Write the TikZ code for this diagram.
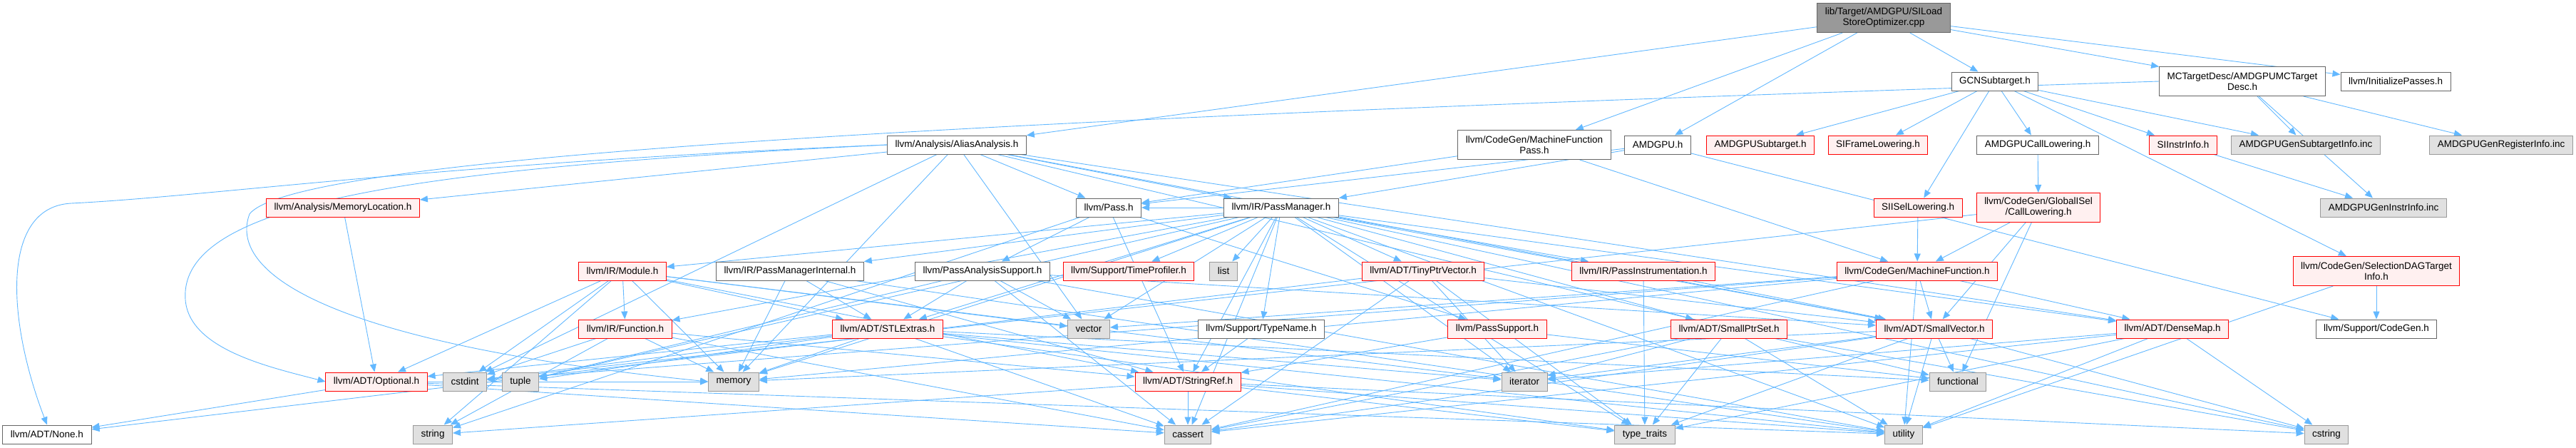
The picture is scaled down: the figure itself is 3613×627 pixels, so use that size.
\documentclass[tikz,border=0pt]{standalone}
\usepackage{fontspec}
\setmainfont{Liberation Sans}
\usepackage{tikz}
\usetikzlibrary{arrows.meta,backgrounds}
\definecolor{edgeblue}{RGB}{99,184,255}
\definecolor{boxgrey}{RGB}{102,102,102}
\definecolor{sysfill}{RGB}{224,224,224}
\definecolor{sysline}{RGB}{153,153,153}
\definecolor{truncfill}{RGB}{255,240,240}
\definecolor{srcfill}{RGB}{153,153,153}

\begin{document}
\begin{tikzpicture}[x=1pt, y=-1pt,
  hdr/.style={draw=boxgrey, fill=white, line width=1pt, inner xsep=11pt,
    inner ysep=2pt, minimum height=26pt, align=center,
    font=\fontsize{13.5}{15}\selectfont},
  trunc/.style={hdr, draw=red, fill=truncfill},
  sys/.style={hdr, draw=sysline, fill=sysfill},
  srcfile/.style={hdr, fill=srcfill},
  tall/.style={minimum height=41pt},
  dep/.style={draw=edgeblue, line width=0.9pt, -{Triangle[length=11pt,width=9pt]}}]
  \useasboundingbox (0,0) rectangle (3613,627);

  % Source file
  \node[srcfile, tall] (root) at (2642,25) {lib/Target/AMDGPU/SILoad\\StoreOptimizer.cpp};

  % Row 2
  \node[hdr] (gcn) at (2798,114) {GCNSubtarget.h};
  \node[hdr, tall] (mctd) at (3145,114) {MCTargetDesc/AMDGPUMCTarget\\Desc.h};
  \node[hdr] (initp) at (3360,114) {llvm/InitializePasses.h};

  % Row 3
  \node[hdr] (alias) at (1342,203) {llvm/Analysis/AliasAnalysis.h};
  \node[hdr, tall] (mfpass) at (2152,203) {llvm/CodeGen/MachineFunction\\Pass.h};
  \node[hdr] (amdgpu) at (2325,203) {AMDGPU.h};
  \node[trunc] (subtgt) at (2469,203) {AMDGPUSubtarget.h};
  \node[trunc] (sifl) at (2634,203) {SIFrameLowering.h};
  \node[hdr] (callow) at (2858,203) {AMDGPUCallLowering.h};
  \node[trunc] (siinfo) at (3062,203) {SIInstrInfo.h};
  \node[sys] (gensub) at (3234,203) {AMDGPUGenSubtargetInfo.inc};
  \node[sys] (genreg) at (3508,203) {AMDGPUGenRegisterInfo.inc};

  % Row 4
  \node[trunc] (memloc) at (481,291) {llvm/Analysis/MemoryLocation.h};
  \node[hdr] (pass) at (1555,291) {llvm/Pass.h};
  \node[hdr] (pm) at (1797,291) {llvm/IR/PassManager.h};
  \node[trunc] (siisel) at (2690,291) {SIISelLowering.h};
  \node[trunc, tall] (gcall) at (2859,291) {llvm/CodeGen/GlobalISel\\/CallLowering.h};
  \node[sys] (geninst) at (3343,291) {AMDGPUGenInstrInfo.inc};

  % Row 5
  \node[trunc] (module) at (873,380) {llvm/IR/Module.h};
  \node[hdr] (pmi) at (1108,380) {llvm/IR/PassManagerInternal.h};
  \node[hdr] (pas) at (1378,380) {llvm/PassAnalysisSupport.h};
  \node[trunc] (timeprof) at (1583,380) {llvm/Support/TimeProfiler.h};
  \node[sys] (list) at (1716,380) {list};
  \node[trunc] (tiny) at (1996,380) {llvm/ADT/TinyPtrVector.h};
  \node[trunc] (pinstr) at (2305,380) {llvm/IR/PassInstrumentation.h};
  \node[trunc] (mfunc) at (2689,380) {llvm/CodeGen/MachineFunction.h};
  \node[trunc, tall] (sdagti) at (3333,380) {llvm/CodeGen/SelectionDAGTarget\\Info.h};

  % Row 6
  \node[trunc] (func) at (877,461) {llvm/IR/Function.h};
  \node[trunc] (stlx) at (1245,461) {llvm/ADT/STLExtras.h};
  \node[sys] (vector) at (1527,461) {vector};
  \node[hdr] (typename) at (1769,461) {llvm/Support/TypeName.h};
  \node[trunc] (psupport) at (2100,461) {llvm/PassSupport.h};
  \node[trunc] (sptrset) at (2425,461) {llvm/ADT/SmallPtrSet.h};
  \node[trunc] (svec) at (2713,461) {llvm/ADT/SmallVector.h};
  \node[trunc] (dmap) at (3047,461) {llvm/ADT/DenseMap.h};
  \node[hdr] (cgen) at (3333,461) {llvm/Support/CodeGen.h};

  % Row 7
  \node[trunc] (optional) at (528,535) {llvm/ADT/Optional.h};
  \node[sys] (cstdint) at (652,535) {cstdint};
  \node[sys] (tuple) at (730,535) {tuple};
  \node[sys] (memory) at (1029,535) {memory};
  \node[trunc] (sref) at (1666,535) {llvm/ADT/StringRef.h};
  \node[sys] (iterator) at (2138,535) {iterator};
  \node[sys] (functional) at (2746,535) {functional};

  % Row 8
  \node[hdr] (none) at (66,609) {llvm/ADT/None.h};
  \node[sys] (string) at (607,609) {string};
  \node[sys] (cassert) at (1666,609) {cassert};
  \node[sys] (typetraits) at (2307,609) {type\_traits};
  \node[sys] (utility) at (2670,609) {utility};
  \node[sys] (cstring) at (3263,609) {cstring};

  \begin{scope}[on background layer]
    % Source file includes
    \foreach \dst in {alias,mfpass,amdgpu,gcn,mctd,initp}
      \draw[dep] (root) -- (\dst);

    % Target headers
    \foreach \dst in {subtgt,sifl,siisel,callow,siinfo,gensub,sdagti}
      \draw[dep] (gcn) -- (\dst);
    \foreach \dst in {gensub,genreg,geninst}
      \draw[dep] (mctd) -- (\dst);
    \draw[dep] (mctd.west) .. controls (1600,160) and (420,210) .. (350,300)
      .. controls (320,380) and (450,480) .. (memory.west);
    \draw[dep] (callow) -- (gcall);
    \draw[dep] (siisel) -- (mfunc);
    \draw[dep] (siinfo) -- (geninst);
    \foreach \dst in {mfunc,svec,functional,cstdint}
      \draw[dep] (gcall) -- (\dst);
    \foreach \dst in {cgen,utility}
      \draw[dep] (sdagti) -- (\dst);

    % Pass headers
    \foreach \dst in {pass,pm,memloc,dmap,svec,cstdint,functional,memory,vector}
      \draw[dep] (alias) -- (\dst);
    \draw[dep] (alias.west) .. controls (600,230) and (300,275) .. (100,285)
      .. controls (0,290) and (10,450) .. (none.north);
    \draw[dep] (alias.west) .. controls (600,235) and (250,280) .. (260,420)
      .. controls (265,490) and (380,515) .. (optional.west);
    \foreach \dst in {pass,mfunc}
      \draw[dep] (mfpass) -- (\dst);
    \foreach \dst in {pm,pass,cgen}
      \draw[dep] (amdgpu) -- (\dst);
    \foreach \dst in {svec,dmap,cassert,cstdint,memory,utility,vector}
      \draw[dep] (mfunc) -- (\dst);
    \foreach \dst in {pass,module,func,pmi,timeprof,list,tiny,pinstr,typename,
        stlx,sptrset,svec,sref,dmap,cassert,cstring,iterator,memory,tuple,
        typetraits,utility,vector}
      \draw[dep] (pm) -- (\dst);
    \foreach \dst in {pas,psupport,sref,string}
      \draw[dep] (pass) -- (\dst);
    \foreach \dst in {stlx,svec,cassert,tuple,utility,vector}
      \draw[dep] (pas) -- (\dst);
    \foreach \dst in {stlx,sref,memory,utility}
      \draw[dep] (pmi) -- (\dst);

    % IR and ADT headers
    \foreach \dst in {func,optional,stlx,sref,cstdint,iterator,memory,string,vector}
      \draw[dep] (module) -- (\dst);
    \foreach \dst in {sref,cassert,cstdint,memory,string}
      \draw[dep] (func) -- (\dst);
    \foreach \dst in {none,svec,cassert,iterator,typetraits}
      \draw[dep] (tiny) -- (\dst);
    \foreach \dst in {svec,typetraits}
      \draw[dep] (pinstr) -- (\dst);
    \draw[dep] (typename) -- (sref);
    \foreach \dst in {sref,functional}
      \draw[dep] (psupport) -- (\dst);
    \foreach \dst in {optional,cassert,cstdint,functional,iterator,memory,tuple,
        typetraits,utility}
      \draw[dep] (stlx) -- (\dst);
    \foreach \dst in {cassert,cstring,iterator,typetraits,utility}
      \draw[dep] (sptrset) -- (\dst);
    \foreach \dst in {cassert,cstring,functional,iterator,memory,typetraits,utility}
      \draw[dep] (svec) -- (\dst);
    \foreach \dst in {cassert,cstring,iterator,typetraits,utility}
      \draw[dep] (dmap) -- (\dst);
    \foreach \dst in {none,cassert,memory,utility}
      \draw[dep] (optional) -- (\dst);
    \foreach \dst in {cassert,cstring,string,typetraits,utility}
      \draw[dep] (sref) -- (\dst);
    \draw[dep] (memloc) -- (optional);
  \end{scope}
\end{tikzpicture}
\end{document}
